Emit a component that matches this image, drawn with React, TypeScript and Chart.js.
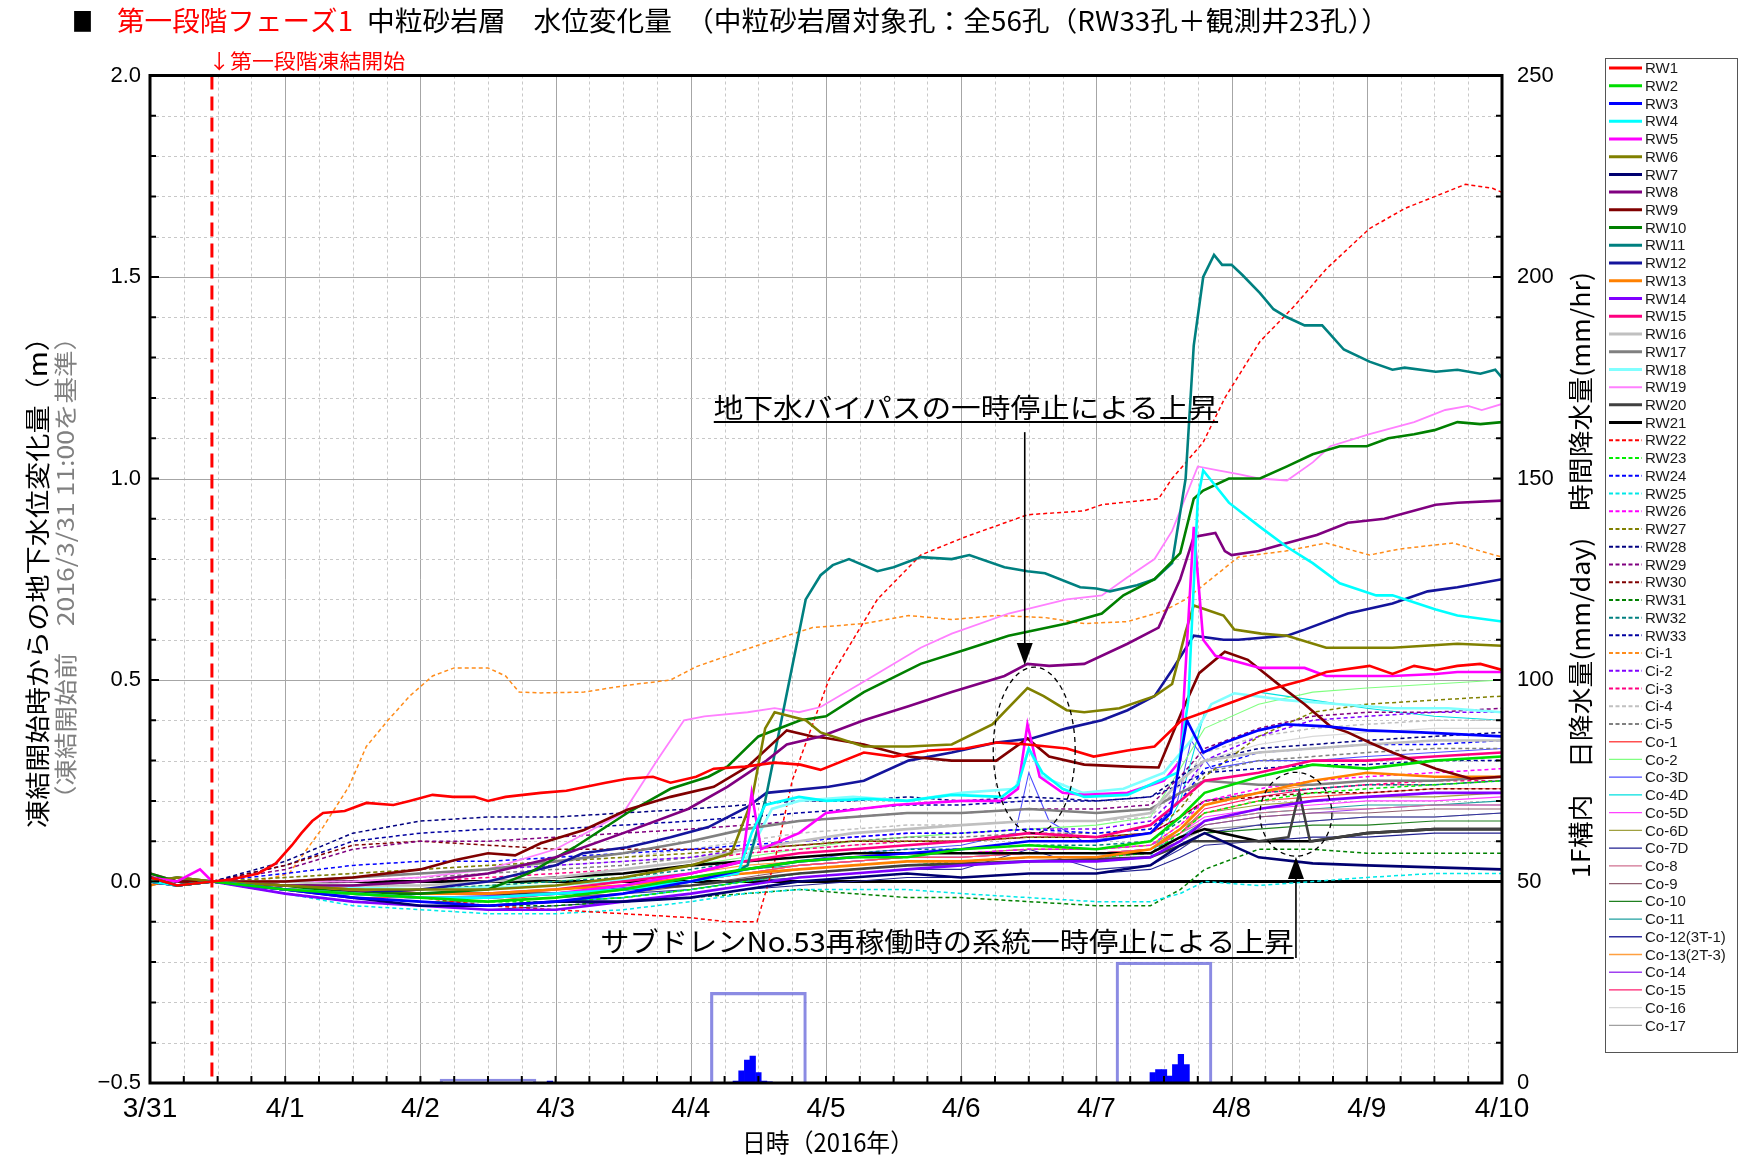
import React, { useEffect, useRef } from 'react';
import { Chart, registerables } from 'chart.js';

Chart.register(...registerables);

// ---------- tick labels ----------
const X_LABELS = ['3/31', '4/1', '4/2', '4/3', '4/4', '4/5', '4/6', '4/7', '4/8', '4/9', '4/10'];
const Y_LABELS = ['−0.5', '0.0', '0.5', '1.0', '1.5', '2.0'];
const Y2_LABELS = ['0', '50', '100', '150', '200', '250'];

// ---------- common time grid (days since 3/31 0:00) ----------
const T = [0, 0.2, 0.46, 1, 1.5, 2, 2.5, 3, 3.5, 4, 4.4, 4.8, 5.2, 5.6, 6, 6.5, 7, 7.4, 7.62, 7.8, 8.2, 8.6, 9, 9.5, 10];

// ---------- series with their own [day, m] points ----------
const RW1 = [[0,0.01],[0.2,-0.01],[0.46,0],[0.6,0.005],[0.8,0.02],[0.93,0.045],[1.05,0.09],[1.12,0.12],[1.2,0.15],[1.28,0.17],[1.44,0.175],[1.6,0.195],[1.8,0.19],[1.92,0.2],[2.09,0.215],[2.24,0.21],[2.4,0.21],[2.5,0.2],[2.63,0.21],[2.89,0.22],[3.08,0.225],[3.37,0.245],[3.53,0.255],[3.72,0.26],[3.85,0.245],[4.04,0.26],[4.17,0.28],[4.4,0.285],[4.62,0.295],[4.81,0.29],[4.96,0.277],[5.28,0.32],[5.5,0.31],[5.76,0.325],[6.03,0.33],[6.26,0.345],[6.49,0.34],[6.78,0.33],[6.98,0.31],[7.23,0.325],[7.43,0.335],[7.63,0.4],[7.88,0.43],[8.21,0.47],[8.54,0.5],[8.7,0.52],[9.02,0.535],[9.19,0.515],[9.35,0.535],[9.51,0.525],[9.67,0.535],[9.84,0.54],[10,0.525]];
const RW3 = [[0,0.01],[0.2,-0.01],[0.46,0],[1,-0.02],[1.5,-0.04],[2,-0.05],[2.5,-0.06],[3,-0.05],[3.5,-0.03],[4,0.0],[4.4,0.03],[4.8,0.05],[5.2,0.06],[5.6,0.07],[6,0.08],[6.5,0.1],[7,0.1],[7.4,0.12],[7.55,0.17],[7.67,0.4],[7.79,0.32],[7.95,0.345],[8.2,0.375],[8.4,0.39],[8.7,0.385],[9.0,0.375],[9.4,0.37],[9.7,0.365],[10,0.36]];
const RW4 = [[0,0.0],[0.2,-0.01],[0.46,0],[1,-0.02],[1.5,-0.03],[2,-0.04],[2.5,-0.04],[3,-0.03],[3.5,-0.02],[4,0.0],[4.35,0.02],[4.45,0.12],[4.55,0.19],[4.8,0.21],[5.0,0.2],[5.3,0.205],[5.6,0.2],[5.93,0.215],[6.3,0.21],[6.42,0.24],[6.5,0.33],[6.6,0.27],[6.75,0.23],[6.91,0.21],[7.23,0.215],[7.43,0.245],[7.6,0.27],[7.68,0.45],[7.75,0.95],[7.79,1.02],[7.98,0.94],[8.21,0.88],[8.41,0.83],[8.6,0.79],[8.8,0.74],[9.07,0.71],[9.19,0.71],[9.51,0.675],[9.67,0.66],[10,0.645]];
const RW5 = [[0,0.01],[0.2,0.0],[0.37,0.03],[0.46,0],[1,-0.02],[1.5,-0.03],[2,-0.04],[2.5,-0.04],[3,-0.03],[3.5,-0.01],[4,0.02],[4.38,0.05],[4.45,0.22],[4.52,0.08],[4.8,0.12],[5.0,0.17],[5.5,0.19],[6.0,0.2],[6.3,0.2],[6.42,0.23],[6.49,0.39],[6.58,0.26],[6.75,0.22],[6.91,0.215],[7.23,0.22],[7.5,0.25],[7.62,0.3],[7.72,0.88],[7.79,0.6],[7.88,0.56],[8.21,0.53],[8.54,0.53],[8.7,0.51],[9.19,0.51],[9.51,0.515],[9.67,0.52],[10,0.52]];
const RW6 = [[0,0.0],[0.2,0.01],[0.46,0],[1,-0.01],[1.5,-0.02],[2,-0.02],[2.5,-0.02],[3,-0.01],[3.5,0.01],[4,0.04],[4.3,0.07],[4.45,0.2],[4.55,0.38],[4.62,0.42],[4.85,0.4],[4.96,0.37],[5.28,0.335],[5.61,0.335],[5.93,0.34],[6.23,0.39],[6.49,0.48],[6.61,0.46],[6.78,0.425],[6.91,0.42],[7.17,0.43],[7.43,0.46],[7.56,0.49],[7.66,0.62],[7.72,0.685],[7.94,0.66],[8.02,0.625],[8.22,0.615],[8.41,0.61],[8.7,0.58],[9.19,0.58],[9.67,0.59],[10,0.585]];
const RW8 = [[0,0.0],[0.2,-0.01],[0.46,0],[1,-0.01],[1.5,-0.01],[2,0.0],[2.5,0.02],[3,0.06],[3.5,0.12],[3.98,0.18],[4.27,0.235],[4.56,0.3],[4.71,0.34],[4.96,0.36],[5.28,0.4],[5.61,0.435],[5.93,0.47],[6.32,0.51],[6.49,0.54],[6.65,0.535],[6.91,0.54],[7.23,0.59],[7.46,0.63],[7.62,0.75],[7.72,0.855],[7.88,0.865],[7.95,0.82],[8.0,0.81],[8.2,0.82],[8.41,0.84],[8.63,0.86],[8.86,0.89],[9.13,0.9],[9.51,0.935],[9.67,0.94],[10,0.945]];
const RW9 = [[0,0.01],[0.2,0.0],[0.46,0],[1,0.0],[1.5,0.01],[2,0.03],[2.25,0.053],[2.5,0.07],[2.7,0.065],[2.89,0.095],[3.21,0.128],[3.53,0.178],[3.85,0.21],[4.17,0.235],[4.42,0.285],[4.71,0.375],[4.9,0.36],[5.0,0.356],[5.28,0.34],[5.61,0.31],[5.93,0.3],[6.26,0.3],[6.49,0.355],[6.65,0.31],[6.91,0.29],[7.23,0.285],[7.46,0.283],[7.63,0.42],[7.76,0.517],[7.95,0.57],[8.12,0.55],[8.37,0.483],[8.54,0.44],[8.73,0.385],[8.86,0.37],[9.02,0.345],[9.19,0.32],[9.51,0.28],[9.77,0.255],[10,0.26]];
const RW10 = [[0,0.02],[0.2,0.0],[0.46,0],[1,-0.01],[1.5,-0.03],[2,-0.03],[2.5,-0.02],[2.8,0.02],[3.14,0.085],[3.53,0.17],[3.85,0.23],[4.13,0.26],[4.27,0.285],[4.5,0.36],[4.81,0.4],[5.0,0.41],[5.28,0.47],[5.7,0.54],[6.03,0.575],[6.35,0.61],[6.78,0.64],[7.04,0.665],[7.2,0.71],[7.43,0.75],[7.62,0.815],[7.72,0.95],[7.79,0.97],[7.98,1.0],[8.21,1.0],[8.41,1.03],[8.6,1.06],[8.8,1.08],[9.0,1.08],[9.16,1.1],[9.35,1.11],[9.5,1.12],[9.67,1.14],[9.84,1.135],[10,1.14]];
const RW11 = [[0,0.0],[0.2,0.01],[0.46,0],[1,-0.02],[1.5,-0.03],[2,-0.04],[2.5,-0.04],[3,-0.03],[3.5,-0.02],[4,0.0],[4.3,0.02],[4.42,0.04],[4.55,0.2],[4.7,0.45],[4.85,0.7],[4.96,0.76],[5.05,0.785],[5.17,0.8],[5.38,0.77],[5.5,0.78],[5.7,0.805],[5.93,0.8],[6.06,0.81],[6.32,0.78],[6.49,0.77],[6.62,0.765],[6.88,0.73],[7.0,0.727],[7.1,0.72],[7.3,0.735],[7.43,0.75],[7.56,0.79],[7.66,1.0],[7.72,1.33],[7.79,1.5],[7.87,1.555],[7.93,1.53],[8.0,1.53],[8.08,1.505],[8.21,1.46],[8.31,1.42],[8.41,1.4],[8.54,1.38],[8.67,1.38],[8.83,1.32],[9.02,1.29],[9.19,1.27],[9.28,1.275],[9.51,1.265],[9.67,1.27],[9.84,1.26],[9.95,1.27],[10,1.25]];
const RW12 = [[0,0.0],[0.2,-0.01],[0.46,0],[1,-0.02],[1.5,-0.03],[2,-0.02],[2.5,0.0],[3.0,0.04],[3.2,0.07],[3.53,0.085],[3.85,0.11],[4.13,0.135],[4.42,0.185],[4.56,0.22],[5.02,0.235],[5.28,0.25],[5.61,0.3],[5.93,0.32],[6.26,0.345],[6.52,0.355],[6.78,0.38],[7.04,0.4],[7.23,0.425],[7.43,0.46],[7.56,0.525],[7.72,0.61],[7.94,0.6],[8.05,0.6],[8.41,0.61],[8.54,0.625],[8.86,0.665],[9.19,0.69],[9.45,0.72],[9.67,0.73],[10,0.75]];
const RW18 = [[0,0.0],[0.46,0],[1,-0.01],[2,-0.02],[3,-0.01],[4,0.02],[4.4,0.05],[4.6,0.18],[4.8,0.2],[5.2,0.21],[5.6,0.2],[6,0.22],[6.4,0.23],[6.5,0.33],[6.6,0.26],[6.9,0.22],[7.2,0.23],[7.5,0.27],[7.7,0.35],[7.85,0.44],[8.02,0.467],[8.4,0.45],[8.8,0.44],[9.2,0.43],[9.6,0.43],[10,0.42]];
const RW19 = [[0,0.0],[0.2,0.0],[0.46,0],[1,0.0],[1.5,0.0],[2,0.01],[2.5,0.03],[3,0.08],[3.5,0.17],[3.75,0.3],[3.95,0.4],[4.1,0.41],[4.42,0.42],[4.62,0.43],[4.8,0.42],[4.96,0.433],[5.3,0.5],[5.7,0.58],[5.93,0.615],[6.35,0.665],[6.78,0.7],[7.04,0.71],[7.23,0.755],[7.43,0.8],[7.56,0.87],[7.75,1.03],[7.9,1.02],[8.06,1.01],[8.2,1.0],[8.41,0.995],[8.6,1.04],[8.73,1.08],[9.02,1.11],[9.35,1.14],[9.58,1.17],[9.75,1.18],[9.85,1.17],[10,1.185]];
const RW20 = [[0,0.0],[0.46,0],[1,-0.02],[2,-0.03],[3,-0.03],[4,-0.01],[4.8,0.02],[5.6,0.04],[6.5,0.05],[7.4,0.06],[7.7,0.1],[8.2,0.1],[8.42,0.11],[8.5,0.22],[8.58,0.1],[9,0.12],[9.5,0.13],[10,0.13]];
const RW22 = [[0,0.0],[0.2,0.01],[0.46,0],[1,-0.01],[1.5,-0.02],[2,-0.04],[2.5,-0.06],[3,-0.07],[3.5,-0.08],[4.0,-0.09],[4.27,-0.1],[4.49,-0.1],[4.62,0.05],[4.75,0.25],[5.02,0.5],[5.38,0.7],[5.7,0.81],[6.03,0.855],[6.49,0.91],[6.91,0.92],[7.04,0.935],[7.46,0.95],[7.56,1.0],[7.79,1.09],[7.95,1.2],[8.21,1.34],[8.47,1.43],[8.7,1.52],[9.02,1.62],[9.28,1.67],[9.58,1.71],[9.73,1.73],[9.93,1.72],[10,1.71]];
const CI1 = [[0,0.0],[0.2,0.0],[0.46,0],[0.8,0.0],[1.03,0.02],[1.28,0.135],[1.47,0.235],[1.6,0.335],[1.76,0.4],[1.92,0.46],[2.09,0.51],[2.25,0.53],[2.5,0.53],[2.63,0.51],[2.73,0.47],[2.89,0.468],[3.21,0.47],[3.53,0.487],[3.85,0.5],[4.04,0.533],[4.33,0.567],[4.62,0.6],[4.9,0.63],[5.28,0.64],[5.61,0.66],[5.93,0.65],[6.26,0.66],[6.62,0.655],[6.91,0.64],[7.23,0.645],[7.49,0.67],[7.66,0.7],[8.05,0.805],[8.4,0.82],[8.7,0.84],[9.02,0.81],[9.24,0.825],[9.64,0.84],[9.84,0.82],[10,0.805]];
const CO3 = [[0,0.0],[0.2,0.0],[0.46,0],[1,-0.02],[2,-0.04],[3,-0.03],[4,0.0],[4.4,0.03],[4.8,0.05],[5.2,0.07],[5.6,0.08],[6,0.09],[6.4,0.12],[6.5,0.27],[6.65,0.15],[6.9,0.1],[7.4,0.12],[7.6,0.2],[7.7,0.35],[7.85,0.28],[8.2,0.3],[8.6,0.3],[9,0.31],[9.5,0.32],[10,0.33]];

// ---------- series on the common grid T (m) ----------
const RW2  = [0.01,-0.01,0,-0.02,-0.03,-0.04,-0.05,-0.04,-0.02,0.01,0.03,0.05,0.06,0.06,0.08,0.09,0.08,0.10,0.16,0.22,0.26,0.29,0.28,0.30,0.31];
const RW7  = [0.0,-0.01,0,-0.02,-0.04,-0.06,-0.06,-0.05,-0.05,-0.04,-0.02,0.0,0.01,0.02,0.01,0.02,0.02,0.04,0.09,0.12,0.06,0.045,0.04,0.035,0.03];
const RW13 = [-0.01,0.01,0,-0.01,-0.02,-0.03,-0.03,-0.02,-0.01,0.01,0.02,0.03,0.04,0.05,0.05,0.06,0.06,0.08,0.13,0.19,0.22,0.25,0.27,0.26,0.26];
const RW14 = [0.01,0.0,0,-0.03,-0.05,-0.06,-0.07,-0.07,-0.05,-0.03,-0.01,0.01,0.02,0.03,0.04,0.05,0.05,0.06,0.10,0.15,0.18,0.20,0.21,0.22,0.22];
const RW15 = [0.02,0.0,0,-0.01,-0.02,-0.03,-0.03,-0.02,0.0,0.02,0.05,0.07,0.08,0.09,0.10,0.12,0.11,0.14,0.20,0.25,0.27,0.30,0.30,0.31,0.32];
const RW16 = [0.0,0.01,0,0.0,-0.01,-0.01,0.0,0.01,0.03,0.05,0.08,0.10,0.12,0.13,0.14,0.15,0.15,0.17,0.25,0.30,0.32,0.33,0.34,0.35,0.35];
const RW17 = [0.01,-0.01,0,0.0,0.01,0.02,0.03,0.05,0.07,0.10,0.13,0.15,0.16,0.17,0.17,0.18,0.17,0.18,0.22,0.25,0.24,0.24,0.25,0.25,0.26];
const RW21 = [0.01,0.0,0,-0.01,-0.01,0.0,0.0,0.01,0.02,0.04,0.05,0.06,0.07,0.07,0.07,0.07,0.07,0.07,0.11,0.13,0.10,0.10,0.12,0.13,0.13];
const RW23 = [0.0,0.01,0,-0.02,-0.04,-0.05,-0.05,-0.05,-0.04,-0.02,0.0,0.02,0.03,0.04,0.05,0.06,0.06,0.07,0.12,0.17,0.20,0.22,0.23,0.24,0.25];
const RW24 = [0.01,0.0,0,0.02,0.04,0.05,0.05,0.06,0.07,0.08,0.09,0.10,0.11,0.12,0.12,0.13,0.12,0.13,0.20,0.28,0.32,0.33,0.34,0.34,0.35];
const RW25 = [0.0,-0.01,0,-0.03,-0.06,-0.07,-0.08,-0.08,-0.07,-0.05,-0.03,-0.02,-0.02,-0.02,-0.03,-0.04,-0.05,-0.05,-0.03,0.0,-0.01,0.0,0.01,0.02,0.02];
const RW26 = [0.02,0.0,0,-0.02,-0.03,-0.04,-0.04,-0.03,-0.02,0.0,0.03,0.05,0.06,0.07,0.07,0.08,0.08,0.09,0.14,0.20,0.23,0.25,0.26,0.27,0.28];
const RW27 = [0.0,0.01,0,0.01,0.02,0.03,0.04,0.05,0.06,0.07,0.08,0.09,0.10,0.10,0.10,0.11,0.11,0.12,0.18,0.26,0.36,0.42,0.44,0.45,0.46];
const RW28 = [0.0,0.0,0,0.05,0.12,0.15,0.16,0.16,0.17,0.18,0.19,0.20,0.20,0.21,0.20,0.21,0.20,0.21,0.26,0.30,0.33,0.34,0.35,0.36,0.37];
const RW29 = [0.01,0.0,0,0.03,0.08,0.10,0.10,0.11,0.12,0.13,0.14,0.15,0.16,0.17,0.17,0.18,0.18,0.19,0.26,0.33,0.38,0.41,0.42,0.42,0.43];
const RW30 = [0.0,0.01,0,0.04,0.09,0.10,0.09,0.08,0.08,0.08,0.08,0.09,0.10,0.10,0.10,0.11,0.11,0.12,0.16,0.20,0.21,0.22,0.22,0.23,0.23];
const RW31 = [0.0,-0.01,0,-0.02,-0.04,-0.05,-0.06,-0.06,-0.05,-0.04,-0.03,-0.02,-0.03,-0.04,-0.04,-0.05,-0.06,-0.06,-0.02,0.03,0.08,0.08,0.07,0.07,0.07];
const RW32 = [0.01,0.0,0,-0.01,-0.02,-0.02,-0.01,0.0,0.01,0.03,0.05,0.06,0.07,0.08,0.08,0.09,0.09,0.10,0.15,0.20,0.22,0.23,0.24,0.24,0.25];
const RW33 = [0.0,0.0,0,0.04,0.10,0.12,0.13,0.13,0.14,0.15,0.16,0.17,0.18,0.19,0.19,0.20,0.20,0.21,0.24,0.27,0.28,0.29,0.29,0.30,0.30];
const CI2  = [0.0,0.01,0,0.0,0.01,0.02,0.03,0.04,0.05,0.06,0.08,0.10,0.11,0.12,0.12,0.13,0.13,0.15,0.22,0.30,0.36,0.40,0.41,0.42,0.42];
const CI3  = [0.01,0.0,0,-0.01,-0.01,0.0,0.01,0.02,0.03,0.05,0.07,0.08,0.09,0.10,0.10,0.11,0.11,0.12,0.16,0.20,0.22,0.23,0.24,0.25,0.25];
const CI4  = [0.0,0.0,0,0.01,0.02,0.03,0.04,0.05,0.06,0.08,0.10,0.12,0.13,0.14,0.14,0.15,0.15,0.16,0.24,0.32,0.36,0.38,0.39,0.40,0.40];
const CI5  = [0.0,0.01,0,0.0,0.0,0.01,0.02,0.03,0.04,0.06,0.08,0.09,0.10,0.11,0.11,0.12,0.12,0.13,0.20,0.27,0.30,0.31,0.32,0.33,0.33];
const CO1  = [0.02,0.0,0,-0.02,-0.04,-0.04,-0.05,-0.03,-0.02,0.0,0.02,0.04,0.05,0.06,0.06,0.07,0.07,0.08,0.12,0.17,0.20,0.21,0.22,0.23,0.23];
const CO2  = [0.0,0.01,0,-0.01,-0.02,-0.02,-0.01,0.0,0.02,0.04,0.06,0.08,0.10,0.11,0.12,0.13,0.14,0.16,0.28,0.38,0.44,0.47,0.48,0.49,0.50];
const CO4  = [0.0,-0.01,0,-0.03,-0.05,-0.06,-0.06,-0.05,-0.04,-0.02,0.0,0.02,0.03,0.04,0.04,0.05,0.05,0.06,0.20,0.42,0.47,0.45,0.43,0.41,0.40];
const CO5  = [0.01,0.0,0,-0.02,-0.03,-0.04,-0.04,-0.03,-0.02,0.0,0.02,0.04,0.05,0.06,0.06,0.07,0.07,0.08,0.12,0.16,0.18,0.19,0.20,0.20,0.21];
const CO6  = [0.0,0.0,0,-0.01,-0.02,-0.03,-0.03,-0.02,-0.01,0.01,0.03,0.05,0.06,0.07,0.07,0.08,0.08,0.09,0.13,0.17,0.19,0.20,0.21,0.21,0.22];
const CO7  = [-0.01,0.0,0,-0.03,-0.05,-0.06,-0.07,-0.06,-0.05,-0.04,-0.02,-0.01,0.0,0.01,0.01,0.02,0.02,0.03,0.06,0.09,0.10,0.11,0.11,0.12,0.12];
const CO8  = [0.0,0.01,0,-0.02,-0.03,-0.03,-0.03,-0.02,-0.01,0.01,0.03,0.05,0.06,0.07,0.07,0.08,0.08,0.09,0.12,0.15,0.17,0.18,0.18,0.19,0.19];
const CO9  = [0.01,0.0,0,-0.02,-0.04,-0.05,-0.05,-0.04,-0.03,-0.01,0.01,0.03,0.04,0.05,0.05,0.06,0.06,0.07,0.10,0.14,0.16,0.17,0.17,0.18,0.18];
const CO10 = [0.0,0.0,0,-0.03,-0.05,-0.06,-0.06,-0.05,-0.04,-0.02,0.0,0.02,0.03,0.04,0.04,0.05,0.05,0.06,0.09,0.12,0.13,0.14,0.14,0.15,0.15];
const CO11 = [0.01,0.0,0,-0.01,-0.02,-0.03,-0.03,-0.02,-0.01,0.01,0.03,0.04,0.05,0.06,0.06,0.07,0.07,0.08,0.11,0.15,0.17,0.18,0.19,0.19,0.20];
const CO12 = [0.0,-0.01,0,-0.02,-0.04,-0.05,-0.05,-0.04,-0.03,-0.02,0.0,0.01,0.02,0.03,0.03,0.08,0.03,0.04,0.08,0.12,0.14,0.15,0.16,0.16,0.17];
const CO13 = [0.0,0.01,0,-0.01,-0.02,-0.02,-0.02,-0.01,0.0,0.02,0.04,0.05,0.06,0.07,0.07,0.08,0.08,0.09,0.14,0.19,0.22,0.24,0.25,0.25,0.26];
const CO14 = [0.01,0.0,0,-0.03,-0.05,-0.06,-0.06,-0.05,-0.04,-0.02,0.0,0.02,0.03,0.04,0.04,0.05,0.05,0.06,0.10,0.14,0.16,0.17,0.18,0.19,0.19];
const CO15 = [0.0,0.0,0,-0.02,-0.03,-0.04,-0.04,-0.03,-0.02,0.0,0.02,0.04,0.05,0.06,0.06,0.07,0.07,0.08,0.12,0.18,0.21,0.23,0.24,0.24,0.25];
const CO16 = [0.0,0.0,0,0.0,0.01,0.02,0.03,0.04,0.05,0.06,0.07,0.08,0.09,0.10,0.10,0.11,0.11,0.12,0.20,0.30,0.34,0.36,0.37,0.38,0.38];
const CO17 = [0.01,0.0,0,-0.01,-0.02,-0.03,-0.03,-0.02,-0.01,0.0,0.02,0.03,0.04,0.05,0.05,0.06,0.06,0.07,0.10,0.13,0.14,0.15,0.16,0.16,0.17];

// ---------- rainfall (right axis, mm) ----------
const RAIN_DAILY = [[2.5, 1.0], [4.5, 22.5], [7.5, 30.0]];
const RAIN_HOURLY = [[2.958, 0.5], [4.333, 0.5], [4.375, 3.0], [4.417, 5.7], [4.458, 6.7], [4.5, 2.6], [4.542, 0.5], [4.583, 0.3],
  [7.417, 2.6], [7.458, 3.3], [7.5, 3.3], [7.542, 1.7], [7.583, 4.6], [7.625, 7.1], [7.667, 4.6]];

// ---------- series table (label, data, colour, kind) ----------
const SERIES = [
  ['RW1', RW1, '#ff0000', 'S'], ['RW2', RW2, '#00dd00', 'S'], ['RW3', RW3, '#0000ff', 'S'], ['RW4', RW4, '#00ffff', 'S'],
  ['RW5', RW5, '#ff00ff', 'S'], ['RW6', RW6, '#808000', 'S'], ['RW7', RW7, '#000070', 'S'], ['RW8', RW8, '#800080', 'S'],
  ['RW9', RW9, '#800000', 'S'], ['RW10', RW10, '#008000', 'S'], ['RW11', RW11, '#008080', 'S'], ['RW12', RW12, '#14149c', 'S'],
  ['RW13', RW13, '#ff8000', 'S'], ['RW14', RW14, '#8000ff', 'S'], ['RW15', RW15, '#ff0080', 'S'], ['RW16', RW16, '#c0c0c0', 'S'],
  ['RW17', RW17, '#808080', 'S'], ['RW18', RW18, '#80ffff', 'S'], ['RW19', RW19, '#ff80ff', 'M'], ['RW20', RW20, '#404040', 'S'],
  ['RW21', RW21, '#000000', 'S'],
  ['RW22', RW22, '#ff0000', 'D'], ['RW23', RW23, '#00ee00', 'D'], ['RW24', RW24, '#0000ff', 'D'], ['RW25', RW25, '#00e8e8', 'D'],
  ['RW26', RW26, '#ff00ff', 'D'], ['RW27', RW27, '#808000', 'D'], ['RW28', RW28, '#000080', 'D'], ['RW29', RW29, '#800080', 'D'],
  ['RW30', RW30, '#800000', 'D'], ['RW31', RW31, '#008000', 'D'], ['RW32', RW32, '#008080', 'D'], ['RW33', RW33, '#0000a0', 'D'],
  ['Ci-1', CI1, '#ff8c1a', 'D'], ['Ci-2', CI2, '#8000ff', 'D'], ['Ci-3', CI3, '#ff0080', 'D'], ['Ci-4', CI4, '#c0c0c0', 'D'],
  ['Ci-5', CI5, '#808080', 'D'],
  ['Co-1', CO1, '#ff5050', 'T'], ['Co-2', CO2, '#80ff80', 'T'], ['Co-3D', CO3, '#5050ff', 'T'], ['Co-4D', CO4, '#00e0e0', 'T'],
  ['Co-5D', CO5, '#ff40ff', 'T'], ['Co-6D', CO6, '#a0a040', 'T'], ['Co-7D', CO7, '#202090', 'T'], ['Co-8', CO8, '#d07090', 'T'],
  ['Co-9', CO9, '#906070', 'T'], ['Co-10', CO10, '#208020', 'T'], ['Co-11', CO11, '#20a0a0', 'T'], ['Co-12(3T-1)', CO12, '#3030a0', 'T'],
  ['Co-13(2T-3)', CO13, '#ffa040', 'T'], ['Co-14', CO14, '#a040f0', 'T'], ['Co-15', CO15, '#ff2070', 'T'], ['Co-16', CO16, '#d8d8d8', 'T'],
  ['Co-17', CO17, '#a0a0a0', 'T'],
];

const KIND_WIDTH = { S: 2.6, M: 1.8, D: 1.5, T: 1.1 };

const JP = '"Noto Sans CJK JP", "Noto Sans CJK SC", sans-serif';
const LAT = '"Liberation Sans", Arial, sans-serif';

function toPoints(d) {
  if (Array.isArray(d[0])) return d.map((p) => ({ x: p[0], y: p[1] }));
  return d.map((v, i) => ({ x: T[i], y: v }));
}

function fitText(ctx, text, x, y, w, font, color, rot = 0) {
  ctx.save();
  ctx.font = font;
  ctx.fillStyle = color;
  ctx.textBaseline = 'middle';
  ctx.textAlign = 'left';
  const m = ctx.measureText(text).width;
  ctx.translate(x, y);
  if (rot) ctx.rotate(rot);
  ctx.scale(w / m, 1);
  ctx.fillText(text, 0, 0);
  ctx.restore();
}

const decor = {
  id: 'decor',
  beforeDraw(chart) {
    const { ctx } = chart;
    ctx.save();
    ctx.fillStyle = '#fff';
    ctx.fillRect(0, 0, chart.width, chart.height);
    ctx.restore();
  },
  beforeDatasetsDraw(chart) {
    const { ctx, chartArea: a, scales } = chart;
    const xs = scales.x, ys = scales.y;
    ctx.save();
    for (let i = 0; i <= 40; i++) {
      const px = Math.round(xs.getPixelForValue(i / 4)) + 0.5;
      ctx.beginPath();
      if (i % 4 === 0) { ctx.setLineDash([]); ctx.strokeStyle = '#a6a6a6'; }
      else { ctx.setLineDash([3, 3]); ctx.strokeStyle = '#c8c8c8'; }
      ctx.lineWidth = 1;
      ctx.moveTo(px, a.top); ctx.lineTo(px, a.bottom); ctx.stroke();
    }
    for (let i = 0; i <= 25; i++) {
      const py = Math.round(ys.getPixelForValue(-0.5 + i / 10)) + 0.5;
      ctx.beginPath();
      if (i % 5 === 0) { ctx.setLineDash([]); ctx.strokeStyle = '#a6a6a6'; }
      else { ctx.setLineDash([3, 3]); ctx.strokeStyle = '#c8c8c8'; }
      ctx.lineWidth = 1;
      ctx.moveTo(a.left, py); ctx.lineTo(a.right, py); ctx.stroke();
    }
    ctx.setLineDash([]);
    ctx.strokeStyle = '#000';
    ctx.lineWidth = 3;
    const y0 = ys.getPixelForValue(0);
    ctx.beginPath(); ctx.moveTo(a.left, y0); ctx.lineTo(a.right, y0); ctx.stroke();
    ctx.restore();
  },
  afterDatasetsDraw(chart) {
    const { ctx, chartArea: a, scales } = chart;
    const xs = scales.x, ys = scales.y;
    const X = (d) => xs.getPixelForValue(d);
    const Y = (v) => ys.getPixelForValue(v);
    ctx.save();

    // freeze start line (3/31 11:00)
    ctx.strokeStyle = '#ff0000';
    ctx.lineWidth = 3;
    ctx.setLineDash([14, 7]);
    ctx.beginPath(); ctx.moveTo(X(0.458), a.top); ctx.lineTo(X(0.458), a.bottom); ctx.stroke();
    ctx.setLineDash([]);

    // frame
    ctx.strokeStyle = '#000';
    ctx.lineWidth = 3;
    ctx.strokeRect(a.left, a.top, a.right - a.left, a.bottom - a.top);

    // tick marks
    ctx.lineWidth = 2;
    ctx.beginPath();
    for (let i = 1; i < 40; i++) {
      const px = X(i / 4);
      ctx.moveTo(px, a.bottom); ctx.lineTo(px, a.bottom - 7);
    }
    for (let i = 1; i < 25; i++) {
      const py = Y(-0.5 + i / 10);
      const len = i % 5 === 0 ? 9 : 6;
      ctx.moveTo(a.left, py); ctx.lineTo(a.left + len, py);
      ctx.moveTo(a.right, py); ctx.lineTo(a.right - len, py);
    }
    ctx.stroke();

    // dashed ellipses
    ctx.lineWidth = 1.3;
    ctx.setLineDash([5, 4]);
    ctx.beginPath();
    ctx.ellipse(X(6.54), Y(0.326), X(6.843) - X(6.54), Y(0.12) - Y(0.326), 0, 0, Math.PI * 2);
    ctx.stroke();
    ctx.beginPath();
    ctx.ellipse(X(8.476), Y(0.167), X(8.742) - X(8.476), Y(0.063) - Y(0.167), 0, 0, Math.PI * 2);
    ctx.stroke();
    ctx.setLineDash([]);

    const arrow = (xd, v0, v1) => {
      const px = X(xd), p0 = Y(v0), p1 = Y(v1);
      const dir = p1 > p0 ? 1 : -1;
      ctx.beginPath(); ctx.lineWidth = 1.6; ctx.strokeStyle = '#000';
      ctx.moveTo(px, p0); ctx.lineTo(px, p1 - dir * 18); ctx.stroke();
      ctx.beginPath(); ctx.fillStyle = '#000';
      ctx.moveTo(px, p1); ctx.lineTo(px - 8, p1 - dir * 22); ctx.lineTo(px + 8, p1 - dir * 22); ctx.closePath(); ctx.fill();
    };
    arrow(6.47, 1.115, 0.537);
    arrow(8.476, -0.19, 0.061);

    const label = (text, d0, d1, v, vu) => {
      const x0 = X(d0), x1 = X(d1);
      fitText(ctx, text, x0, Y(v), x1 - x0, '27px ' + JP, '#000');
      ctx.beginPath(); ctx.lineWidth = 2; ctx.strokeStyle = '#000';
      ctx.moveTo(x0, Y(vu)); ctx.lineTo(x1, Y(vu)); ctx.stroke();
    };
    label('地下水バイパスの一時停止による上昇', 4.17, 7.9, 1.175, 1.14);
    label('サブドレンNo.53再稼働時の系統一時停止による上昇', 3.33, 8.46, -0.15, -0.19);

    // freeze label
    fitText(ctx, '↓第一段階凍結開始', X(0.43), a.top - 14, 197, '20px ' + JP, '#ff0000');

    // title
    fitText(ctx, '■', 72, 21, 21, '26px ' + JP, '#000');
    fitText(ctx, '第一段階フェーズ1', 117, 21, 236, '27px ' + JP, '#ff0000');
    fitText(ctx, '中粒砂岩層　水位変化量　（中粒砂岩層対象孔：全56孔（RW33孔＋観測井23孔））', 367, 21, 1022, '27px ' + JP, '#000');

    // axis titles
    fitText(ctx, '凍結開始時からの地下水位変化量（m）', 37, 828, 505, '25px ' + JP, '#000', -Math.PI / 2);
    fitText(ctx, '（凍結開始前　2016/3/31 11:00を基準）', 65, 812, 488, '23px ' + JP, '#808080', -Math.PI / 2);
    fitText(ctx, '1F構内　日降水量(mm/day)　時間降水量(mm/hr)', 1580, 878, 606, '25px ' + JP, '#000', -Math.PI / 2);
    fitText(ctx, '日時（2016年）', 742, 1142, 172, '25px ' + JP, '#000');

    // legend
    ctx.lineWidth = 1;
    ctx.strokeStyle = '#555';
    ctx.strokeRect(1605.5, 58.5, 132, 994);
    const sets = chart.data.datasets.filter((d) => d.type === 'line');
    sets.forEach((d, i) => {
      const y = 68 + i * 17.73;
      ctx.beginPath();
      ctx.strokeStyle = d.borderColor;
      ctx.lineWidth = d.borderWidth >= 2 ? 3 : d.borderWidth >= 1.4 ? 2 : 1.3;
      ctx.setLineDash(d.borderDash && d.borderDash.length ? [4, 2.5] : []);
      ctx.moveTo(1609, y); ctx.lineTo(1642, y); ctx.stroke();
      ctx.setLineDash([]);
      ctx.fillStyle = '#1a1a1a';
      ctx.font = '15px ' + LAT;
      ctx.textBaseline = 'middle';
      ctx.textAlign = 'left';
      ctx.fillText(d.label, 1645, y + 1);
    });
    ctx.restore();
  },
};

export default function App() {
  const ref = useRef(null);
  useEffect(() => {
    const lineSets = SERIES.map(([label, data, color, kind]) => ({
      type: 'line',
      label,
      data: toPoints(data),
      borderColor: color,
      backgroundColor: color,
      borderWidth: KIND_WIDTH[kind],
      borderDash: kind === 'D' ? [4, 3] : [],
      pointRadius: 0,
      fill: false,
      tension: 0,
      xAxisID: 'x',
      yAxisID: 'y',
    }));
    const barSets = [
      {
        type: 'bar',
        label: '時間降水量',
        data: RAIN_HOURLY.map(([x, y]) => ({ x, y })),
        backgroundColor: '#0000ff',
        borderWidth: 0,
        barThickness: 5.6,
        grouped: false,
        xAxisID: 'x',
        yAxisID: 'y2',
      },
      {
        type: 'bar',
        label: '日降水量',
        data: RAIN_DAILY.map(([x, y]) => ({ x, y })),
        backgroundColor: 'rgba(0,0,0,0)',
        borderColor: 'rgba(110,110,220,0.8)',
        borderWidth: 2.5,
        borderSkipped: 'bottom',
        barThickness: 96,
        grouped: false,
        xAxisID: 'x',
        yAxisID: 'y2',
      },
    ];
    const chart = new Chart(ref.current, {
      type: 'line',
      data: { datasets: [...lineSets, ...barSets] },
      options: {
        responsive: false,
        animation: false,
        devicePixelRatio: 1,
        events: [],
        layout: { padding: { top: 75.5, left: 0, right: 0, bottom: 0 } },
        plugins: { legend: { display: false }, title: { display: false }, tooltip: { enabled: false } },
        scales: {
          x: {
            type: 'linear', min: 0, max: 10, offset: false,
            ticks: {
              stepSize: 1, autoSkip: false, maxRotation: 0,
              callback: (v, i) => X_LABELS[i] ?? '',
              font: { family: '"Liberation Sans Narrow", "Liberation Sans", Arial', size: 28 },
              color: '#000', padding: 9,
            },
            grid: { display: false, drawTicks: false },
            border: { display: false },
            afterFit: (s) => { s.height = 75; },
          },
          y: {
            type: 'linear', position: 'left', min: -0.5, max: 2.0,
            ticks: {
              stepSize: 0.5, callback: (v, i) => Y_LABELS[i] ?? '',
              font: { family: LAT, size: 22 }, color: '#000', padding: 9,
            },
            grid: { display: false, drawTicks: false },
            border: { display: false },
            afterFit: (s) => { s.width = 150; },
          },
          y2: {
            type: 'linear', position: 'right', min: 0, max: 250,
            ticks: {
              stepSize: 50, callback: (v, i) => Y2_LABELS[i] ?? '',
              font: { family: LAT, size: 22 }, color: '#000', padding: 15,
            },
            grid: { display: false, drawTicks: false },
            border: { display: false },
            afterFit: (s) => { s.width = 240; },
          },
        },
      },
      plugins: [decor],
    });
    return () => chart.destroy();
  }, []);
  return (
    <div style={{ position: 'absolute', left: 0, top: 0, width: 1742, height: 1158, background: '#fff' }}>
      <canvas ref={ref} width={1742} height={1158} style={{ display: 'block' }} />
    </div>
  );
}
